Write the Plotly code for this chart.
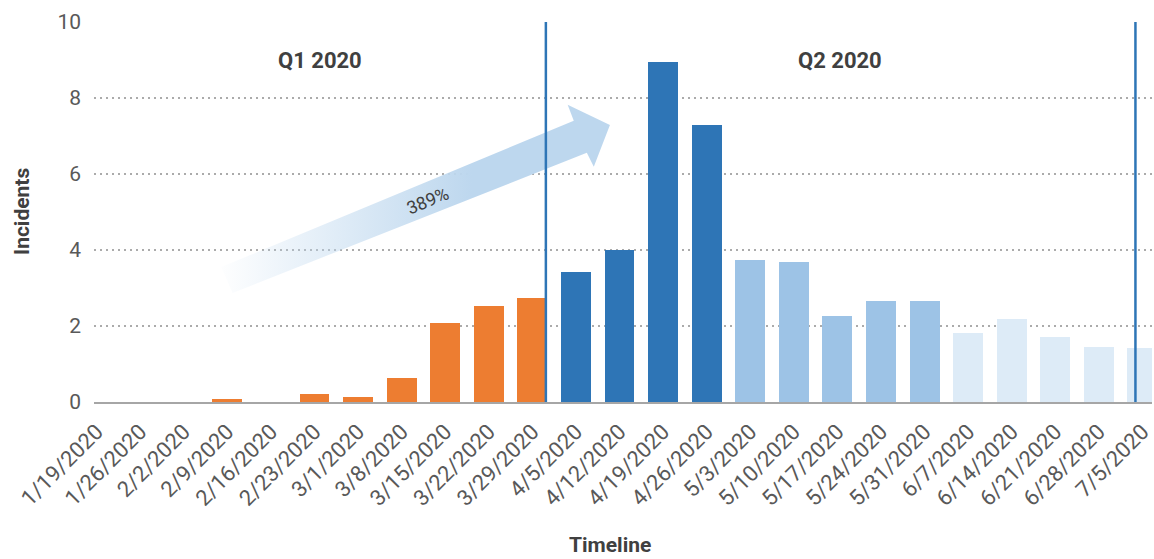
import plotly.graph_objects as go

# Weekly incident counts
weeks = ["1/19/2020", "1/26/2020", "2/2/2020", "2/9/2020", "2/16/2020", "2/23/2020",
         "3/1/2020", "3/8/2020", "3/15/2020", "3/22/2020", "3/29/2020", "4/5/2020",
         "4/12/2020", "4/19/2020", "4/26/2020", "5/3/2020", "5/10/2020", "5/17/2020",
         "5/24/2020", "5/31/2020", "6/7/2020", "6/14/2020", "6/21/2020", "6/28/2020",
         "7/5/2020"]
incidents = [0, 0, 0, 0.07, 0, 0.2, 0.12, 0.63, 2.08, 2.52, 2.73, 3.42,
             4.0, 8.95, 7.29, 3.74, 3.68, 2.26, 2.66, 2.66, 1.81, 2.18, 1.71, 1.44,
             1.42]
phase = (["q1"] * 11) + (["surge"] * 4) + (["decline"] * 5) + (["late"] * 5)

phase_colors = {"q1": "#ED7D31", "surge": "#2E75B6", "decline": "#9DC3E6", "late": "#DDEBF7"}

# Quarter boundaries and labels, in week-index units
quarter_edges = [10.31, 23.84]
quarter_labels = [("Q1 2020", 5.13), ("Q2 2020", 17.06)]

# Growth arrow outline (week-index, incidents)
arrow_x = [2.86, 10.95, 10.81, 11.78, 11.41, 11.25, 3.12, 2.86]
arrow_y = [3.55, 7.40, 7.82, 7.29, 6.19, 6.56, 2.87, 3.55]
growth_label = "389%"

FONT = "Roboto, sans-serif"
x_idx = list(range(len(weeks)))

fig = go.Figure()

fig.add_trace(go.Scatter(
    x=arrow_x, y=arrow_y, mode="lines", line=dict(width=0),
    fill="toself",
    fillgradient=dict(type="horizontal",
                      colorscale=[[0, "rgba(189,215,238,0.03)"], [1, "rgba(189,215,238,1)"]],
                      start=2.9, stop=8.6),
    hoverinfo="skip", showlegend=False,
))

fig.add_trace(go.Bar(
    x=x_idx, y=incidents, width=0.687,
    marker=dict(color=[phase_colors[p] for p in phase], line=dict(width=0)),
    showlegend=False,
))

for xe in quarter_edges:
    fig.add_shape(type="line", xref="x", yref="y", x0=xe, x1=xe, y0=0, y1=10,
                  line=dict(color="#2E75B6", width=2.5))

annotations = []
for text, xc in quarter_labels:
    annotations.append(dict(x=xc, y=9.0, xref="x", yref="y", text=f"<b>{text}</b>",
                            showarrow=False, font=dict(family=FONT, size=22, color="#404040")))
annotations.append(dict(x=7.6, y=5.3, xref="x", yref="y", text=growth_label, textangle=-22,
                        showarrow=False, font=dict(family=FONT, size=18, color="#404040")))
annotations.append(dict(x=0, y=0.5, xref="paper", yref="paper", xshift=-72,
                        xanchor="center", yanchor="middle",
                        text="<b>Incidents</b>", textangle=-90, showarrow=False,
                        font=dict(family=FONT, size=21, color="#404040")))
annotations.append(dict(x=(611 - 94) / 1060, y=0, xref="paper", yref="paper",
                        yshift=-(545 - 401.8), xanchor="center", yanchor="middle",
                        text="<b>Timeline</b>", showarrow=False,
                        font=dict(family=FONT, size=21, color="#404040")))

fig.update_layout(
    width=1154, height=559,
    margin=dict(l=94, r=0, t=22, b=157),
    plot_bgcolor="white", paper_bgcolor="white",
    bargap=0,
    annotations=annotations,
    xaxis=dict(range=[-0.06, 24.22], tickmode="array", tickvals=x_idx, ticktext=weeks,
               tickangle=-45, showgrid=False, zeroline=False, showline=True,
               linecolor="#A6A6A6", linewidth=2, ticks="", ticklabeloverflow="allow",
               ticklabelstandoff=6,
               tickfont=dict(family=FONT, size=22, color="#595959")),
    yaxis=dict(range=[0, 10], dtick=2, showgrid=True, gridcolor="#ABABAB",
               griddash="1.5px,4.5px", gridwidth=1.5, zeroline=False, showline=False,
               ticks="", ticklabelstandoff=12,
               tickfont=dict(family=FONT, size=21, color="#595959")),
)

fig.write_html("out.html")
